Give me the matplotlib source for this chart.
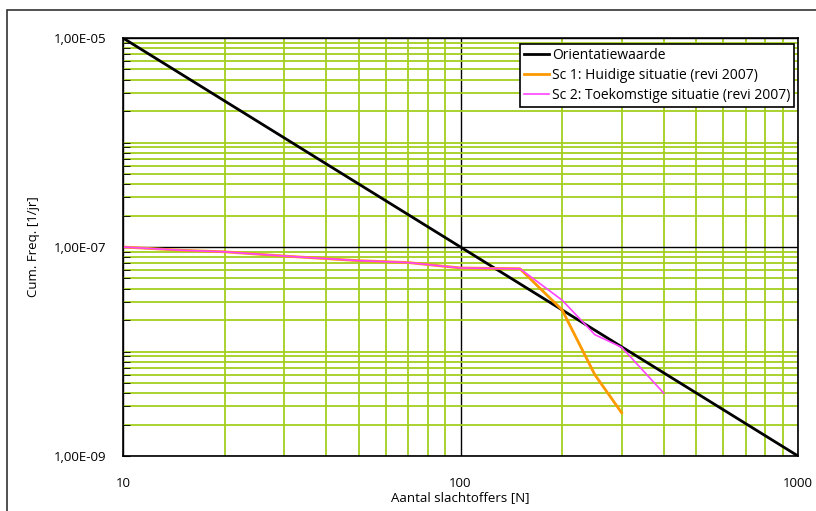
import numpy as np
import matplotlib.pyplot as plt
from matplotlib.patches import Rectangle
from matplotlib.ticker import LogLocator, NullFormatter, FixedLocator

# Orientatiewaarde (line from 1e-5 at N=10 to 1e-9 at N=1000)
n_orient = [10, 1000]
f_orient = [1e-5, 1e-9]

# Sc 1: Huidige situatie (revi 2007)
n_sc1 = [10, 15, 20, 30, 50, 70, 100, 150, 200, 250, 300]
f_sc1 = [1.0e-7, 9.3e-8, 9.0e-8, 8.2e-8, 7.4e-8, 7.1e-8, 6.3e-8, 6.2e-8, 2.5e-8, 6.0e-9, 2.6e-9]

# Sc 2: Toekomstige situatie (revi 2007)
n_sc2 = [10, 15, 20, 30, 50, 70, 100, 150, 200, 250, 300, 400]
f_sc2 = [1.0e-7, 9.3e-8, 9.0e-8, 8.2e-8, 7.4e-8, 7.1e-8, 6.3e-8, 6.2e-8, 3.1e-8, 1.45e-8, 1.1e-8, 4.0e-9]

labels = ['Orientatiewaarde', 'Sc 1: Huidige situatie (revi 2007)',
          'Sc 2: Toekomstige situatie (revi 2007)']

plt.rcParams['font.family'] = ['Open Sans', 'DejaVu Sans']
green = '#a3cf1f'

fig = plt.figure(figsize=(8.16, 5.11), dpi=100)
ax = fig.add_axes([0.1507, 0.1076, 0.8273, 0.818])

ax.set_xscale('log')
ax.set_yscale('log')
ax.set_xlim(10, 1000)
ax.set_ylim(1e-9, 1e-5)

# grid: green minor lines, black decade lines
ax.xaxis.set_major_locator(FixedLocator([10, 100, 1000]))
ax.xaxis.set_minor_locator(LogLocator(base=10, subs=np.arange(2, 10)))
ax.yaxis.set_major_locator(FixedLocator([1e-9, 1e-7, 1e-5]))
ax.yaxis.set_minor_locator(FixedLocator(
    [m * 10.0 ** e for e in range(-9, -5) for m in range(1, 10) if not (m == 1 and e in (-9, -7))]))
ax.xaxis.set_minor_formatter(NullFormatter())
ax.yaxis.set_minor_formatter(NullFormatter())
ax.grid(which='minor', color=green, lw=1.3)
ax.grid(which='major', color='black', lw=1.0)
ax.set_axisbelow(True)

ax.set_xticks([10, 100, 1000])
ax.set_xticklabels(['10', '100', '1000'])
ax.set_yticks([1e-9, 1e-7, 1e-5])
ax.set_yticklabels(['1,00E-09', '1,00E-07', '1,00E-05'])
ax.tick_params(axis='x', which='both', length=0, pad=15, labelsize=9.5)
ax.tick_params(axis='y', which='both', direction='in', length=5, labelsize=9.5, pad=12)

for s in ax.spines.values():
    s.set_linewidth(1.2)

ax.plot(n_orient, f_orient, color='black', lw=2, label=labels[0])
ax.plot(n_sc1, f_sc1, color='#ff9900', lw=2, label=labels[1])
ax.plot(n_sc2, f_sc2, color='#ff44ff', lw=1.2, label=labels[2])

leg = ax.legend(loc='upper right', bbox_to_anchor=(1.005, 1.003), fontsize=10,
                fancybox=False, framealpha=1, edgecolor='black',
                handlelength=1.8, handletextpad=0.2, borderpad=0.3, labelspacing=0.35)
leg.get_frame().set_linewidth(1.2)

ax.set_xlabel('Aantal slachtoffers [N]', fontsize=9.5, labelpad=1)
ax.set_ylabel('Cum. Freq. [1/jr]', fontsize=9.5, labelpad=10)

# outer chart frame
fig.patches.append(Rectangle((7 / 816, -0.05), 1.0, 1 - 10 / 511 + 0.05,
                             transform=fig.transFigure, fill=False,
                             edgecolor='#333333', lw=1.2))

fig.savefig('out.png', dpi=100)
